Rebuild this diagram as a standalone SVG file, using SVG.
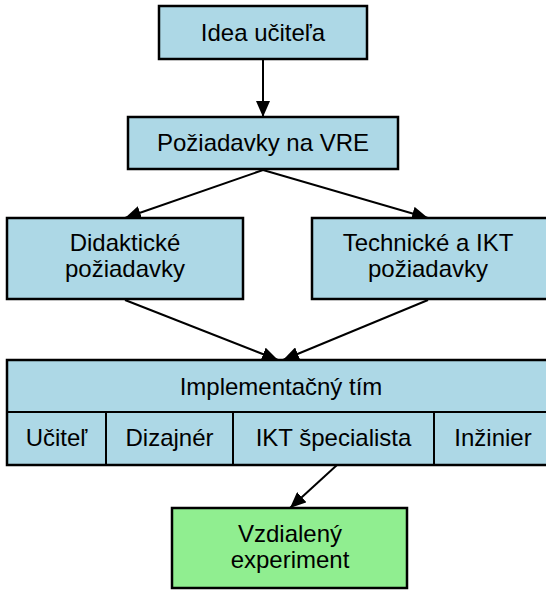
<svg xmlns="http://www.w3.org/2000/svg" width="546" height="590" viewBox="0 0 546 590">
<defs>
<style>
.box{fill:#ADD8E6;stroke:#000;stroke-width:2.5}
.green{fill:#90EE90;stroke:#000;stroke-width:2.5}
.div{stroke:#000;stroke-width:2}
text{font-family:"Liberation Sans",Arial,sans-serif;font-size:24px;fill:#000;text-anchor:middle}
.conn line{stroke:#000;stroke-width:2;marker-end:url(#arr)}
</style>
<marker id="arr" markerUnits="userSpaceOnUse" markerWidth="18" markerHeight="14" refX="16" refY="7" orient="auto">
<path d="M0,0 L16,7 L0,14 z" fill="#000"/>
</marker>
</defs>
<rect width="546" height="590" fill="#fff"/>
<g id="connectors" class="conn">
<line x1="263" y1="60" x2="263" y2="117"/>
<line x1="263" y1="170" x2="125" y2="218"/>
<line x1="263" y1="170" x2="428" y2="218"/>
<line x1="125" y1="300" x2="278" y2="360"/>
<line x1="428" y1="300" x2="283" y2="360"/>
<line x1="337" y1="465" x2="290" y2="508"/>
</g>
<g id="idea">
<rect class="box" x="159" y="6" width="208" height="53"/>
<text x="263" y="41">Idea učiteľa</text>
</g>
<g id="poziadavky">
<rect class="box" x="128" y="117" width="270" height="52"/>
<text x="263" y="151">Požiadavky na VRE</text>
</g>
<g id="didakticke">
<rect class="box" x="7" y="218" width="236" height="81"/>
<text x="125" y="251">Didaktické</text>
<text x="125" y="277">požiadavky</text>
</g>
<g id="technicke">
<rect class="box" x="312" y="218" width="240" height="81"/>
<text x="428" y="251">Technické a IKT</text>
<text x="428" y="277">požiadavky</text>
</g>
<g id="tim">
<rect class="box" x="7" y="360" width="548" height="105"/>
<line class="div" x1="7" y1="412" x2="555" y2="412"/>
<line class="div" x1="106" y1="412" x2="106" y2="465"/>
<line class="div" x1="233" y1="412" x2="233" y2="465"/>
<line class="div" x1="434" y1="412" x2="434" y2="465"/>
<text x="281" y="395">Implementačný tím</text>
<text x="56.5" y="446">Učiteľ</text>
<text x="169.5" y="446">Dizajnér</text>
<text x="333.5" y="446">IKT špecialista</text>
<text x="493" y="446">Inžinier</text>
</g>
<g id="experiment">
<rect class="green" x="172" y="508" width="235" height="80"/>
<text x="290" y="542">Vzdialený</text>
<text x="290" y="568">experiment</text>
</g>
</svg>
